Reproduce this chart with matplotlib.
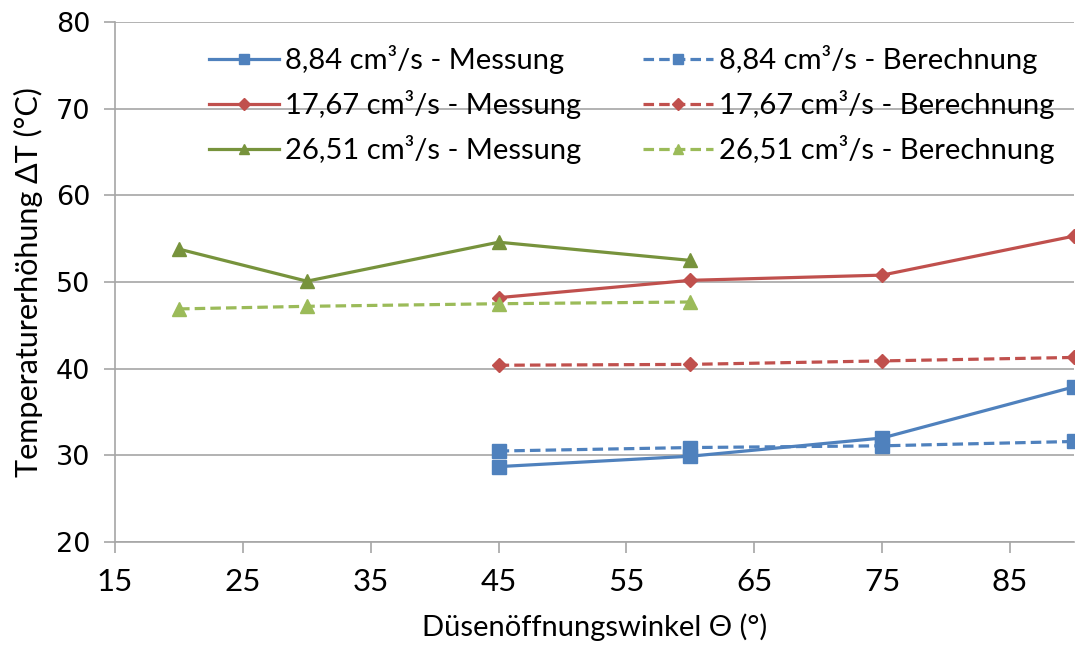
import matplotlib
matplotlib.use("Agg")
import matplotlib.pyplot as plt

# Nozzle opening angle (deg) and temperature rise (deg C)
angles_low = [45, 60, 75, 90]
meas_884 = [28.7, 29.9, 32.0, 37.9]
calc_884 = [30.5, 30.9, 31.1, 31.6]

meas_1767 = [48.2, 50.2, 50.8, 55.3]
calc_1767 = [40.4, 40.5, 40.9, 41.3]

angles_high = [20, 30, 45, 60]
meas_2651 = [53.8, 50.1, 54.6, 52.5]
calc_2651 = [46.9, 47.2, 47.5, 47.7]

labels_meas = ["8,84 cm³/s - Messung", "17,67 cm³/s - Messung", "26,51 cm³/s - Messung"]
labels_calc = ["8,84 cm³/s - Berechnung", "17,67 cm³/s - Berechnung", "26,51 cm³/s - Berechnung"]

x_ticks = [15, 25, 35, 45, 55, 65, 75, 85]
y_ticks = [20, 30, 40, 50, 60, 70, 80]

text_font = ["Lato", "DejaVu Sans"]

blue = "#4F81BD"
red = "#C0504D"
green_dark = "#77933C"
green_light = "#9BBB59"

fig = plt.figure(figsize=(10.76, 6.45), dpi=100)
ax = fig.add_axes([0.107, 0.1597, 0.891, 0.806])

lw = 2.3
dash = (0, (3.3, 1.6))
ax.plot(angles_low, meas_884, color=blue, lw=lw, marker="s", ms=10, label=labels_meas[0])
ax.plot(angles_low, meas_1767, color=red, lw=lw, marker="D", ms=7.5, label=labels_meas[1])
ax.plot(angles_high, meas_2651, color=green_dark, lw=lw, marker="^", ms=10, label=labels_meas[2])
ax.plot(angles_low, calc_884, color=blue, lw=lw, ls=dash, marker="s", ms=10, label=labels_calc[0])
ax.plot(angles_low, calc_1767, color=red, lw=lw, ls=dash, marker="D", ms=7.5, label=labels_calc[1])
ax.plot(angles_high, calc_2651, color=green_light, lw=lw, ls=dash, marker="^", ms=10, label=labels_calc[2])

ax.set_xlim(15, 90)
ax.set_ylim(20, 80)
ax.set_xticks(x_ticks)
ax.set_yticks(y_ticks)
ax.yaxis.grid(True, color="#A6A6A6", lw=1.2)
ax.set_axisbelow(True)
for s in ["top", "right"]:
    ax.spines[s].set_visible(False)
for s in ["left", "bottom"]:
    ax.spines[s].set_color("#A6A6A6")
    ax.spines[s].set_linewidth(1.2)
ax.tick_params(axis="both", color="#A6A6A6", length=8, width=1.2)
ax.tick_params(axis="x", pad=11)
ax.tick_params(axis="y", pad=10)

for t in ax.get_yticklabels():
    t.set_fontfamily("DejaVu Sans")
    t.set_fontsize(19.5)
for t in ax.get_xticklabels():
    t.set_fontfamily(text_font)
    t.set_fontsize(22.5)

ax.set_xlabel("Düsenöffnungswinkel Θ (°)", fontsize=21, family=text_font, labelpad=12)
ax.set_ylabel("Temperaturerhöhung ΔT (°C)", fontsize=22, family=text_font, labelpad=9)

leg = ax.legend(ncol=2, loc="upper left", bbox_to_anchor=(0.071, 1.006), frameon=False,
                prop={"family": text_font, "size": 21}, handlelength=2.4,
                columnspacing=2.1, labelspacing=0.55, handletextpad=0.2, markerscale=0.75)

fig.savefig("out.png", dpi=100)
